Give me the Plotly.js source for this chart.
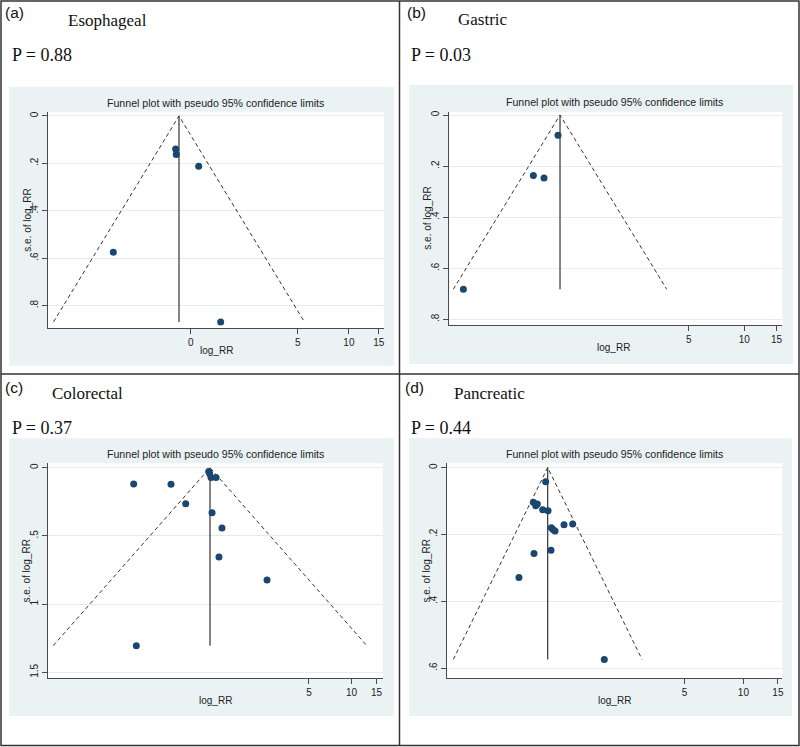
<!DOCTYPE html>
<html>
<head>
<meta charset="utf-8">
<script src="https://cdn.plot.ly/plotly-3.0.1.min.js"></script>
<style>
  html, body { margin: 0; padding: 0; background: #ffffff; }
  #chart { width: 800px; height: 747px; }
</style>
</head>
<body>
<div id="chart"></div>
<script>
// ---------------- DATA ----------------
const panelLetters = ['(a)', '(b)', '(c)', '(d)'];
const cancerNames = ['Esophageal', 'Gastric', 'Colorectal', 'Pancreatic'];
const pValueLabels = ['P = 0.88', 'P = 0.03', 'P = 0.37', 'P = 0.44'];
const plotTitle = 'Funnel plot with pseudo 95% confidence limits';
const xAxisTitle = 'log_RR';
const yAxisTitle = 's.e. of log_RR';

// study estimates (log RR) and standard errors
const logRR_A = [-0.045, -0.037, 0.267, -0.890, 0.565];
const se_A    = [0.139, 0.163, 0.212, 0.575, 0.869];

const logRR_B = [-0.025, -0.333, -0.200, -1.208];
const se_B    = [0.079, 0.237, 0.247, 0.682];

const logRR_C = [-1.241, -0.634, -0.395, -0.021, -0.005, 0.016, 0.098, 0.033, 0.195, 0.146, 0.927, -1.198];
const se_C    = [0.120, 0.122, 0.264, 0.029, 0.045, 0.073, 0.073, 0.330, 0.442, 0.655, 0.823, 1.305];

const logRR_D = [-0.024, -0.169, -0.122, -0.141, -0.059, 0.004, 0.043, 0.062, 0.086, 0.192, 0.294, 0.039, -0.161, -0.338, 0.666];
const se_D    = [0.042, 0.104, 0.109, 0.114, 0.126, 0.129, 0.180, 0.185, 0.190, 0.171, 0.169, 0.247, 0.257, 0.329, 0.574];

// pseudo 95% confidence limits (funnel)
const funnelCentre = [0, 0, 0, 0];
const funnelLower  = [-1.70, -1.334, -2.55, -1.11];
const funnelUpper  = [1.70, 1.334, 2.55, 1.11];
const funnelSeMax  = [0.869, 0.682, 1.305, 0.574];

// tick labels
const xTickLabels_A = ['0', '5', '10', '15'];
const xTickPos_A    = [0.16, Math.log(5), Math.log(10), Math.log(15)];
const xTickLabels_BCD = ['5', '10', '15'];
const xTickPos_BCD    = [Math.log(5), Math.log(10), Math.log(15)];

const yTickVals_AB = [0, 0.2, 0.4, 0.6, 0.8];
const yTickText_AB = ['0', '.2', '.4', '.6', '.8'];
const yTickVals_C  = [0, 0.5, 1, 1.5];
const yTickText_C  = ['0', '.5', '1', '1.5'];
const yTickVals_D  = [0, 0.2, 0.4, 0.6];
const yTickText_D  = ['0', '.2', '.4', '.6'];

// ---------------- LAYOUT GEOMETRY (pixels) ----------------
const W = 800, H = 747;
const px = v => v / W;
const py = v => 1 - v / H;

const panelsLayout = [
  { plot: [47.7, 384, 111.7, 328.3], region: [9.3, 394, 86.7, 365.7],
    xr: [-1.779, 2.778], yr: [0.896, -0.018],
    letter: [3, 12.5], name: [65.7, 20.5], p: [10, 55], title: [215.7, 103.3], xt: [216, 350], yt: [26.7, 220] },
  { plot: [449.3, 782.3, 111.7, 325], region: [409.3, 793.3, 85, 364],
    xr: [-1.384, 2.779], yr: [0.822, -0.013],
    letter: [405, 12.5], name: [455.7, 19.5], p: [409.3, 54.5], title: [614.7, 101.7], xt: [613.3, 347.7], yt: [426.7, 218] },
  { plot: [47.7, 382.7, 463.3, 678.3], region: [9.3, 394, 438.3, 716],
    xr: [-2.639, 2.808], yr: [1.544, -0.032],
    letter: [3.3, 387], name: [50, 393.5], p: [10, 427.5], title: [215, 454.3], xt: [215, 700], yt: [26.7, 570.8] },
  { plot: [446.7, 782.3, 463.3, 678.3], region: [409.3, 792, 438.3, 716],
    xr: [-1.188, 2.760], yr: [0.6305, -0.0129],
    letter: [402.7, 387], name: [451.7, 393.5], p: [409.3, 427.5], title: [614.3, 454.3], xt: [614.3, 700], yt: [426.7, 570.8] }
];

const estimates = [logRR_A, logRR_B, logRR_C, logRR_D];
const errors = [se_A, se_B, se_C, se_D];
const xTickPos = [xTickPos_A, xTickPos_BCD, xTickPos_BCD, xTickPos_BCD];
const xTickText = [xTickLabels_A, xTickLabels_BCD, xTickLabels_BCD, xTickLabels_BCD];
const yTickVals = [yTickVals_AB, yTickVals_AB, yTickVals_C, yTickVals_D];
const yTickText = [yTickText_AB, yTickText_AB, yTickText_C, yTickText_D];

const navy = '#1a476f';
const regionColor = '#eaf2f3';
const gridColor = '#e2ebed';
const axisColor = '#4a4a4a';
const lineColor = '#333333';
const sans = 'Liberation Sans, Arial, sans-serif';
const serif = 'Liberation Serif, Times New Roman, serif';

const traces = [];
const layout = {
  width: W, height: H,
  margin: { l: 0, r: 0, t: 0, b: 0, pad: 0 },
  paper_bgcolor: '#ffffff',
  plot_bgcolor: 'rgba(0,0,0,0)',
  showlegend: false,
  shapes: [],
  annotations: []
};

panelsLayout.forEach((P, i) => {
  const n = i === 0 ? '' : String(i + 1);
  const xa = 'x' + n, ya = 'y' + n;

  // graph region (light bluish gray) and white plot region
  layout.shapes.push({ type: 'rect', xref: 'paper', yref: 'paper', layer: 'below',
    x0: px(P.region[0]), x1: px(P.region[1]), y0: py(P.region[3]), y1: py(P.region[2]),
    fillcolor: regionColor, line: { width: 0 } });
  layout.shapes.push({ type: 'rect', xref: 'paper', yref: 'paper', layer: 'below',
    x0: px(P.plot[0]), x1: px(P.plot[1]), y0: py(P.plot[3]), y1: py(P.plot[2]),
    fillcolor: '#ffffff', line: { width: 0 } });

  const axisCommon = {
    showline: true, linecolor: axisColor, linewidth: 1,
    ticks: 'outside', ticklen: 5, tickwidth: 1, tickcolor: axisColor,
    tickfont: { family: sans, size: 10, color: '#222' },
    zeroline: false, fixedrange: true, mirror: false
  };

  layout['xaxis' + n] = Object.assign({}, axisCommon, {
    domain: [px(P.plot[0]), px(P.plot[1])],
    anchor: ya, range: P.xr, tickmode: 'array',
    tickvals: xTickPos[i], ticktext: xTickText[i],
    showgrid: false
  });
  layout['yaxis' + n] = Object.assign({}, axisCommon, {
    domain: [py(P.plot[3]), py(P.plot[2])],
    anchor: xa, range: P.yr, tickmode: 'array',
    tickvals: yTickVals[i], ticktext: yTickText[i],
    tickangle: -90, showgrid: true, gridcolor: gridColor, gridwidth: 1
  });

  // pseudo 95% confidence limits (dashed)
  traces.push({
    type: 'scatter', mode: 'lines', xaxis: xa, yaxis: ya, hoverinfo: 'skip',
    x: [funnelLower[i], funnelCentre[i], funnelUpper[i]],
    y: [funnelSeMax[i], 0, funnelSeMax[i]],
    line: { color: lineColor, width: 1, dash: '4px,3px' }
  });
  // vertical line at pooled estimate
  traces.push({
    type: 'scatter', mode: 'lines', xaxis: xa, yaxis: ya, hoverinfo: 'skip',
    x: [funnelCentre[i], funnelCentre[i]],
    y: [0, funnelSeMax[i]],
    line: { color: lineColor, width: 1.2 }
  });
  // studies
  traces.push({
    type: 'scatter', mode: 'markers', xaxis: xa, yaxis: ya,
    x: estimates[i], y: errors[i],
    marker: { color: navy, size: 7, line: { width: 0 } }
  });

  const ann = (text, x, y, opts) => layout.annotations.push(Object.assign({
    text, xref: 'paper', yref: 'paper', x: px(x), y: py(y), showarrow: false
  }, opts));

  ann(panelLetters[i], P.letter[0], P.letter[1], { xanchor: 'left', yanchor: 'middle',
    font: { family: sans, size: 15.5, color: '#111' } });
  ann(cancerNames[i], P.name[0], P.name[1], { xanchor: 'left', yanchor: 'middle',
    font: { family: serif, size: 17, color: '#111' } });
  ann(pValueLabels[i], P.p[0], P.p[1], { xanchor: 'left', yanchor: 'middle',
    font: { family: serif, size: 18, color: '#111' } });
  ann(plotTitle, P.title[0], P.title[1], { xanchor: 'center', yanchor: 'middle',
    font: { family: sans, size: 10.6, color: '#222' } });
  ann(xAxisTitle, P.xt[0], P.xt[1], { xanchor: 'center', yanchor: 'middle',
    font: { family: sans, size: 10, color: '#222' } });
  ann(yAxisTitle, P.yt[0], P.yt[1], { xanchor: 'center', yanchor: 'middle', textangle: -90,
    font: { family: sans, size: 10, color: '#222' } });
});

// panel frame and dividers
const frameLine = { color: '#333333', width: 1.5 };
layout.shapes.push({ type: 'rect', xref: 'paper', yref: 'paper', layer: 'above',
  x0: px(1), x1: px(799), y0: py(745.5), y1: py(1), line: frameLine, fillcolor: 'rgba(0,0,0,0)' });
layout.shapes.push({ type: 'line', xref: 'paper', yref: 'paper', layer: 'above',
  x0: px(399.5), x1: px(399.5), y0: py(745.5), y1: py(1), line: frameLine });
layout.shapes.push({ type: 'line', xref: 'paper', yref: 'paper', layer: 'above',
  x0: px(1), x1: px(799), y0: py(374), y1: py(374), line: frameLine });

Plotly.newPlot('chart', traces, layout, { displayModeBar: false, staticPlot: true });
</script>
</body>
</html>
